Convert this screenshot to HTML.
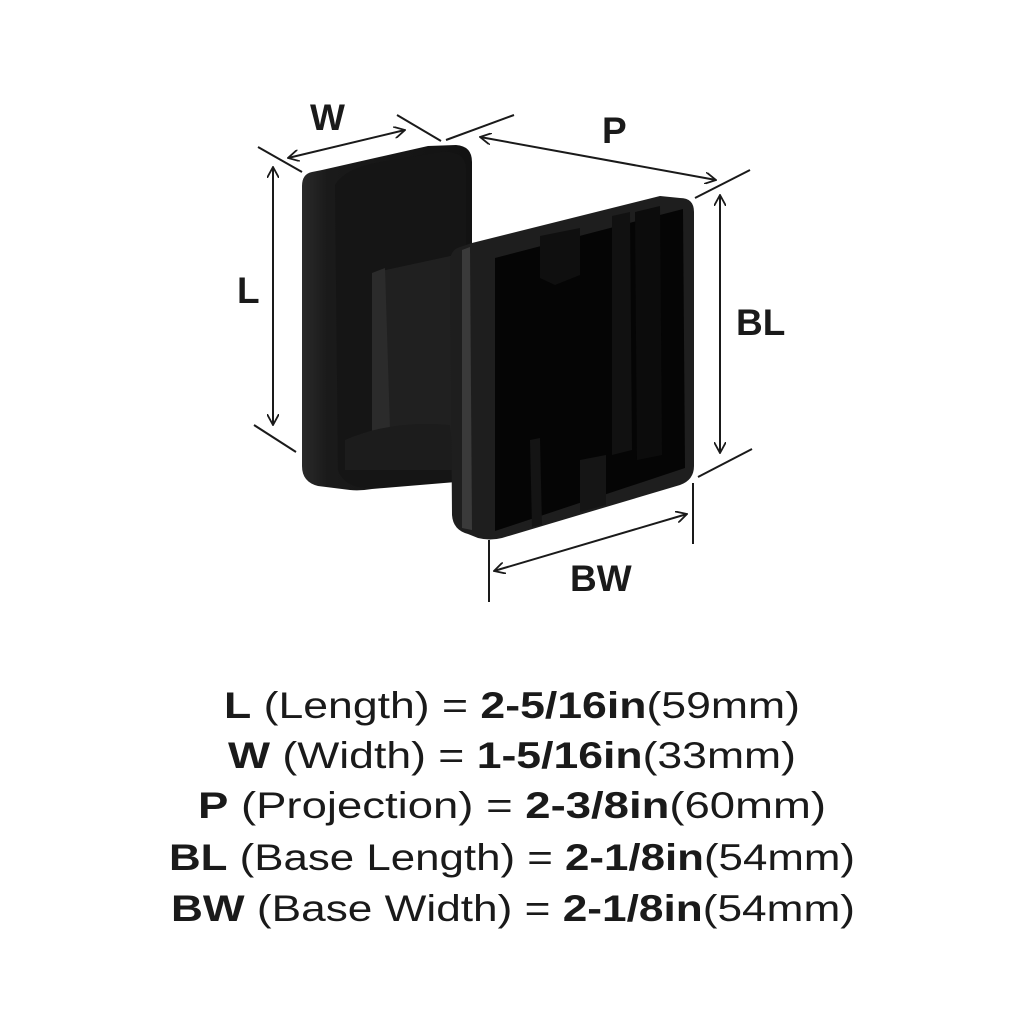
<!DOCTYPE html>
<html><head><meta charset="utf-8"><style>
html,body{margin:0;padding:0;background:#fff;}
svg{display:block;}
text{font-family:"Liberation Sans",sans-serif;fill:#1a1a1a;}
</style></head><body>
<svg width="1024" height="1024" viewBox="0 0 1024 1024" xmlns="http://www.w3.org/2000/svg">
<defs>
<linearGradient id="bp" x1="0" y1="0" x2="1" y2="0">
<stop offset="0" stop-color="#2a2a2a"/><stop offset="0.15" stop-color="#1a1a1a"/><stop offset="1" stop-color="#121212"/>
</linearGradient>
<marker id="ar" viewBox="0 0 12 12" refX="11" refY="6" markerWidth="12" markerHeight="12" orient="auto-start-reverse" markerUnits="userSpaceOnUse">
<path d="M0,0 L11,6 L0,12" fill="none" stroke="#1a1a1a" stroke-width="1.8"/>
</marker>
</defs>
<path d="M312,172 Q302,174 302,186 L302,466 Q302,482 318,486 L350,490 Q360,491 372,489 L456,482 Q472,480 472,464 L472,162 Q472,146 456,145 L428,146 L322,170 Z" fill="url(#bp)"/>
<path d="M335,185 Q345,168 380,162 L440,152 Q465,150 466,168 L466,470 Q464,480 450,481 L375,488 Q345,490 338,470 Z" fill="#151515"/>
<path d="M372,273 L455,255 L460,440 L372,435 Z" fill="#202020"/>
<path d="M372,273 L385,268 L390,430 L372,435 Z" fill="#2b2b2b"/>
<path d="M345,440 Q390,420 450,425 L455,470 L345,470 Z" fill="#1c1c1c"/>
<path d="M460,247 Q450,250 450,262 L452,515 Q453,530 468,534 L478,538 Q490,541 502,538 L680,485 Q694,480 694,466 L694,212 Q694,198 680,198 L660,196 L472,243 Z" fill="#1e1e1e"/>
<path d="M462,250 L470,247 L472,530 L462,528 Z" fill="#3a3a3a"/>
<path d="M495,258 L683,209 L685,468 L495,531 Z" fill="#050505"/>
<path d="M540,236 L580,228 L580,275 L555,285 L540,278 Z" fill="#0f0f0f"/>
<path d="M612,216 L630,212 L632,450 L612,455 Z" fill="#111"/>
<path d="M635,212 L660,206 L662,455 L637,460 Z" fill="#0c0c0c"/>
<path d="M580,460 L606,455 L606,505 L580,512 Z" fill="#151515"/>
<path d="M530,440 L540,438 L542,525 L532,527 Z" fill="#141414"/>
<g stroke="#1a1a1a" stroke-width="2" fill="none">
<line x1="258" y1="147" x2="302" y2="172"/>
<line x1="397" y1="115" x2="441" y2="141"/>
<line x1="288" y1="158" x2="405" y2="130" marker-start="url(#ar)" marker-end="url(#ar)"/>
<line x1="446" y1="140" x2="514" y2="115"/>
<line x1="480" y1="137" x2="716" y2="180" marker-start="url(#ar)" marker-end="url(#ar)"/>
<line x1="695" y1="198" x2="750" y2="170"/>
<line x1="273" y1="167" x2="273" y2="425" marker-start="url(#ar)" marker-end="url(#ar)"/>
<line x1="254" y1="425" x2="296" y2="452"/>
<line x1="720" y1="195" x2="720" y2="453" marker-start="url(#ar)" marker-end="url(#ar)"/>
<line x1="698" y1="477" x2="752" y2="449"/>
<line x1="494" y1="571" x2="687" y2="514" marker-start="url(#ar)" marker-end="url(#ar)"/>
<line x1="489" y1="540" x2="489" y2="602"/>
<line x1="693" y1="483" x2="693" y2="544"/>
</g>
<g font-size="37" font-weight="bold">
<text x="310" y="130">W</text>
<text x="602" y="143">P</text>
<text x="237" y="303">L</text>
<text x="736" y="335">BL</text>
<text x="570" y="591">BW</text>
</g>
<g font-size="37" text-anchor="middle">
<text x="512" y="718" textLength="576" lengthAdjust="spacingAndGlyphs"><tspan font-weight="bold">L</tspan> (Length) = <tspan font-weight="bold">2-5/16in</tspan>(59mm)</text>
<text x="512" y="768" textLength="568" lengthAdjust="spacingAndGlyphs"><tspan font-weight="bold">W</tspan> (Width) = <tspan font-weight="bold">1-5/16in</tspan>(33mm)</text>
<text x="512" y="818" textLength="628" lengthAdjust="spacingAndGlyphs"><tspan font-weight="bold">P</tspan> (Projection) = <tspan font-weight="bold">2-3/8in</tspan>(60mm)</text>
<text x="512" y="870" textLength="686" lengthAdjust="spacingAndGlyphs"><tspan font-weight="bold">BL</tspan> (Base Length) = <tspan font-weight="bold">2-1/8in</tspan>(54mm)</text>
<text x="513" y="921" textLength="684" lengthAdjust="spacingAndGlyphs"><tspan font-weight="bold">BW</tspan> (Base Width) = <tspan font-weight="bold">2-1/8in</tspan>(54mm)</text>
</g>
</svg>
</body></html>
